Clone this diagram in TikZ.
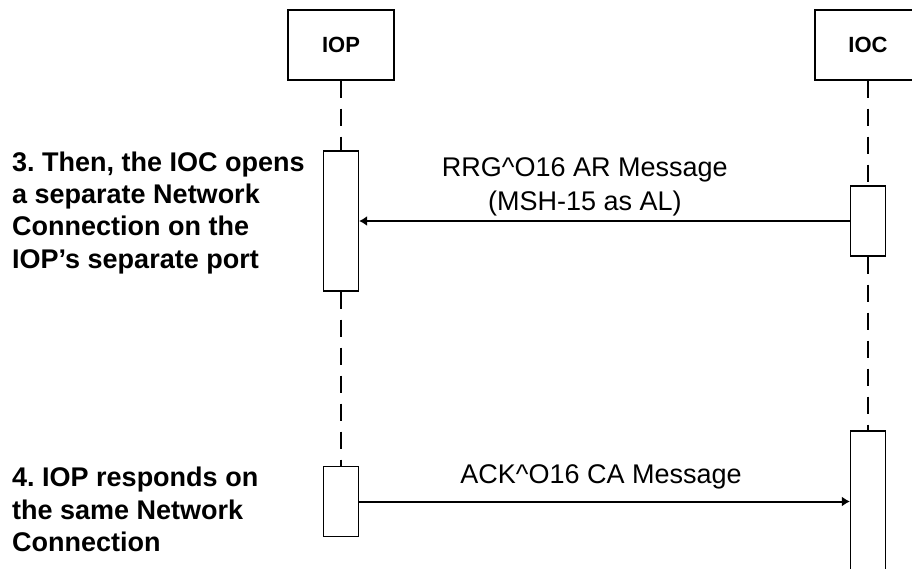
\documentclass[tikz,border=0pt]{standalone}
\usepackage{fontspec}
\setmainfont{Liberation Sans}
\usetikzlibrary{arrows.meta}
\frenchspacing

\begin{document}
\begin{tikzpicture}[x=1pt,y=-1pt,
    actor/.style={draw,line width=1.2pt,minimum width=106pt,minimum height=70pt,font=\fontsize{22}{26}\selectfont\bfseries},
    act/.style={draw,fill=white,line width=1.2pt,minimum width=35pt,inner sep=0pt},
    life/.style={line width=2.4pt,dash pattern=on 17pt off 11pt},
    msg/.style={line width=2pt,-{Latex[length=8pt,width=10pt]}},
    note/.style={align=left,anchor=north west,inner sep=0pt,font=\fontsize{27}{32.3}\selectfont\bfseries},
    lbl/.style={align=center,inner sep=0pt,font=\fontsize{27}{33.7}\selectfont}]
        \clip (0,0) rectangle (912,569);
        \useasboundingbox (0,0) rectangle (912,569);

        \node[actor] at (341,45)(iop){IOP};
        \node[actor] at (868,45)(ioc){IOC};
        \node[act,minimum height=140pt] at (341,221)(iop1){};
        \node[act,minimum height=70pt] at (868,221)(ioc1){};
        \node[act,minimum height=70pt] at (341,501.5)(iop2){};
        \node[act,minimum height=170pt] at (868,516)(ioc2){};

        \node[note] at (12,151.5)(step3){3. Then, the IOC opens\\a separate Network\\Connection on the\\IOP’s separate port};
        \node[note] at (12,467)(step4){4. IOP responds on\\the same Network\\Connection};

        \draw[life] (iop)--(iop1) (iop1)--(iop2) (ioc)--(ioc1) (ioc1)--(ioc2);

        \path[msg]
        (ioc1)edge node[lbl,above=4pt,pos=0.54]{RRG\textasciicircum O16 AR Message\\(MSH-15 as AL)}(iop1)
        (iop2.east)edge node[lbl,above=11pt,pos=0.493]{ACK\textasciicircum O16 CA Message}(iop2.east -| ioc2.west)
        ;
    \end{tikzpicture}
\end{document}
